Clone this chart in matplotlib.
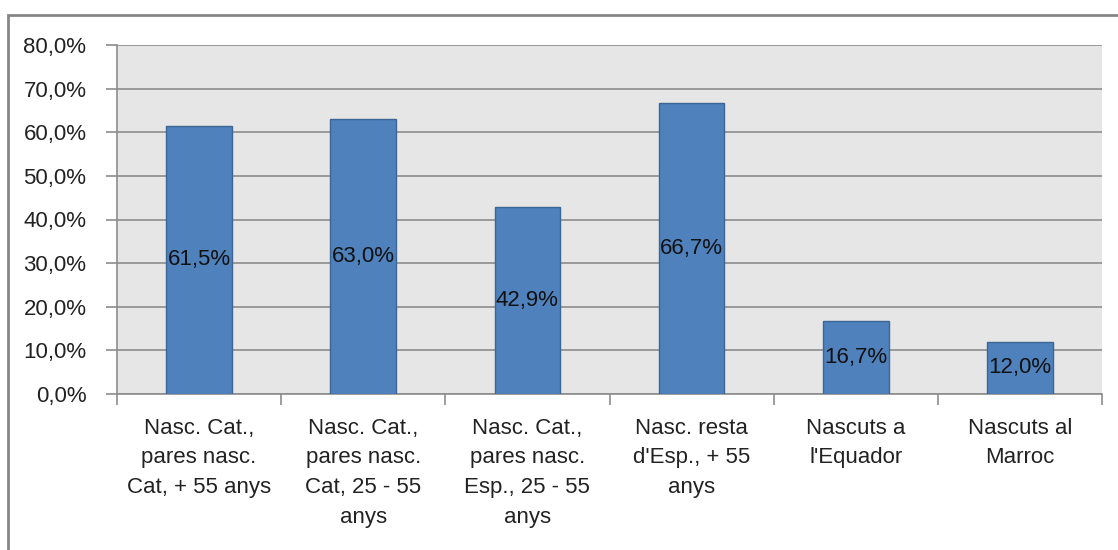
import matplotlib.pyplot as plt
import numpy as np
from matplotlib.patches import Rectangle
from matplotlib.ticker import FuncFormatter

categories = [
    "Nasc. Cat.,\npares nasc.\nCat, + 55 anys",
    "Nasc. Cat.,\npares nasc.\nCat, 25 - 55\nanys",
    "Nasc. Cat.,\npares nasc.\nEsp., 25 - 55\nanys",
    "Nasc. resta\nd'Esp., + 55\nanys",
    "Nascuts a\nl'Equador",
    "Nascuts al\nMarroc",
]
values = [61.5, 63.0, 42.9, 66.7, 16.7, 12.0]
value_labels = ["61,5%", "63,0%", "42,9%", "66,7%", "16,7%", "12,0%"]
y_ticks = [0, 10, 20, 30, 40, 50, 60, 70, 80]

plt.rcParams["font.family"] = ["Liberation Sans", "DejaVu Sans"]

fig = plt.figure(figsize=(11.18, 5.5), dpi=100)
# outer chart frame (partly outside the image, as in the reference)
fig.patches.append(Rectangle((8 / 1118, -0.05), 1.2, (550 - 15) / 550 + 0.05,
                             transform=fig.transFigure, fill=False,
                             edgecolor="#868686", linewidth=2))

ax = fig.add_axes([117 / 1118, 156 / 550, 985 / 1118, 349 / 550])
ax.set_facecolor("#E6E6E6")

x = np.arange(len(categories))
ax.bar(x, values, width=0.4, color="#4F81BD", edgecolor="#3A6595",
       linewidth=1, zorder=3)

for xi, v, lab in zip(x, values, value_labels):
    ax.text(xi, v / 2, lab, ha="center", va="center", fontsize=16,
            color="#111111", zorder=4)

ax.set_xlim(-0.5, len(categories) - 0.5)
ax.set_ylim(0, 80)
ax.set_yticks(y_ticks)
ax.yaxis.set_major_formatter(FuncFormatter(lambda v, p: f"{v:.1f}%".replace(".", ",")))
ax.yaxis.grid(True, color="#8C8C8C", linewidth=1.2, zorder=1)

ax.set_xticks(x)
ax.set_xticklabels(categories, fontsize=16, linespacing=1.55, color="#222222")
ax.set_xticks(np.arange(-0.5, len(categories)), minor=True)
ax.tick_params(axis="x", which="major", length=0, pad=17)
ax.tick_params(axis="x", which="minor", length=8, color="#8C8C8C", width=1.2)
ax.tick_params(axis="y", length=8, color="#8C8C8C", width=1.2, pad=14,
               labelsize=16, labelcolor="#222222")

for side in ["top", "right"]:
    ax.spines[side].set_visible(False)
for side in ["left", "bottom"]:
    ax.spines[side].set_color("#8C8C8C")
    ax.spines[side].set_linewidth(1.2)

fig.savefig("out.png", dpi=100)
